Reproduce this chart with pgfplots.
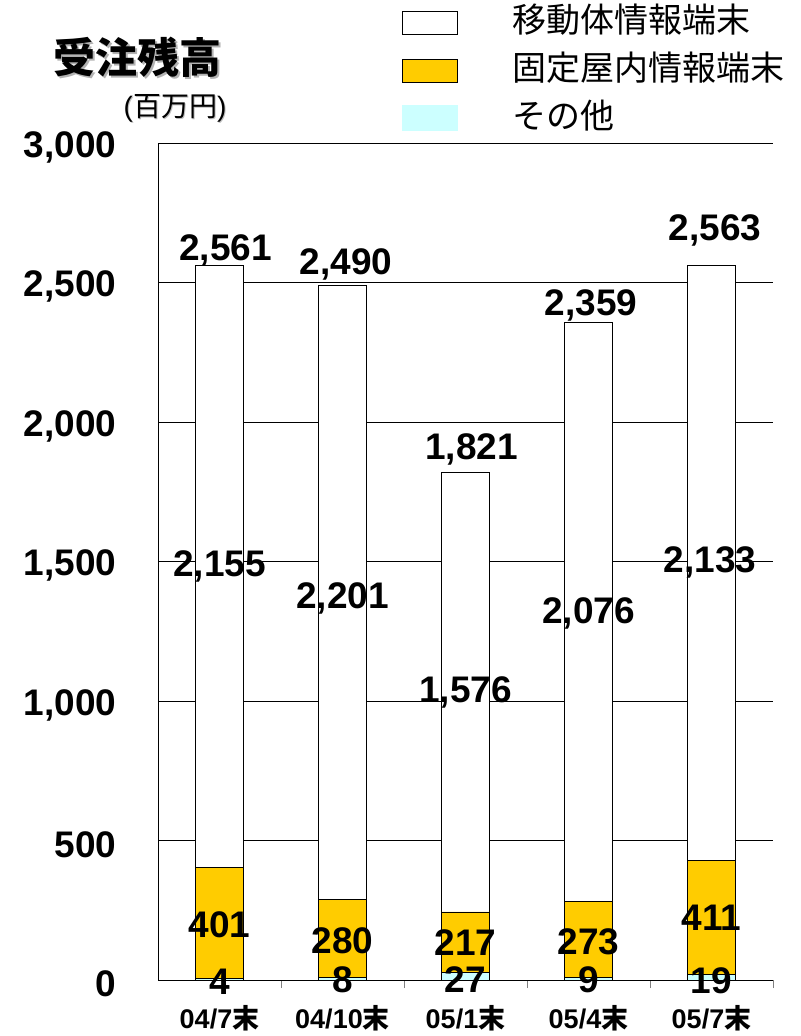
\documentclass[border=0pt]{standalone}
\usepackage{fontspec}
\setmainfont{Liberation Sans}
\newfontfamily\cjk{Noto Sans CJK JP}
\usepackage{pgfplots}
\pgfplotsset{compat=1.18}
\definecolor{gold}{HTML}{FFCC00}
\definecolor{pale}{HTML}{CCFFFF}
\pgfplotsset{
  myleg/.style={legend image code/.code={\draw[##1] (0pt,-5.75pt) rectangle (27.5pt,5.75pt);}},
  paleleg/.style={legend image code/.code={\fill[pale] (0pt,-6pt) rectangle (27.5pt,6.5pt);}},
  frame/.style={at={(79pt,28pt)}, anchor=south west, scale only axis,
    width=307.5pt, height=418.5pt, xmin=-0.5, xmax=4.5, ymin=0, ymax=3000},
}
\begin{document}
\begin{tikzpicture}
\useasboundingbox (0,0) rectangle (400.5pt,518pt);
\begin{axis}[frame,
  ybar stacked, bar width=24pt,
  axis x line=bottom, axis y line=left, axis line style={-},
  xtick={0,...,4},
  xticklabels={04/7{\cjk 末}, 04/10{\cjk 末}, 05/1{\cjk 末}, 05/4{\cjk 末}, 05/7{\cjk 末}},
  major x tick style={draw=none},
  minor xtick={0.5,1.5,2.5,3.5,4.5}, minor tick length=4pt, tick align=outside,
  ytick={0,500,...,3000}, major y tick style={draw=none},
  ymajorgrids, grid style={black, thin},
  yticklabel style={/pgf/number format/.cd, fixed, precision=0, 1000 sep={,}, assume math mode=true,
    /tikz/.cd, font=\fontsize{18.5}{18.5}\selectfont\bfseries, xshift=-13pt, yshift=-2pt},
  xticklabel style={font=\fontsize{13.5}{13.5}\selectfont\bfseries, yshift=-5pt},
  reverse legend,
  legend style={at={(0.387,1.168)}, anchor=north west, draw=none, fill=none,
    font=\cjk\fontsize{17}{17}\selectfont, row sep=8pt, column sep=27pt,
    nodes={inner sep=0pt, text height=13pt, text depth=3pt}},
  legend cell align=left,
]
\addplot[fill=pale, draw=black, paleleg] coordinates {(0,4) (1,8) (2,27) (3,9) (4,19)};
\addplot[fill=gold, draw=black, myleg] coordinates {(0,401) (1,280) (2,217) (3,273) (4,411)};
\addplot[fill=white, draw=black, myleg] coordinates {(0,2155) (1,2201) (2,1576) (3,2076) (4,2133)};
\legend{その他, 固定屋内情報端末, 移動体情報端末}
\end{axis}
\begin{axis}[frame, hide axis, clip=false]
\addplot[only marks, mark=*, mark size=0pt, mark options={draw=none, fill=none},
  point meta=explicit, nodes near coords,
  nodes near coords style={anchor=center, inner sep=0pt,
    font=\fontsize{18.5}{18.5}\selectfont\bfseries,
    /pgf/number format/.cd, fixed, precision=0, 1000 sep={,}, assume math mode=true}]
  coordinates {
  (0.05,2616) [2561] (1.03,2566) [2490] (2.05,1900) [1821] (3.02,2419) [2359] (4.03,2688) [2563]
  (0,1484) [2155] (1,1369) [2201] (2,1029) [1576] (3,1315) [2076] (3.99,1495) [2133]
  (0,197) [401] (1,140) [280] (2,133) [217] (3,136) [273] (4,222) [411]
  (0,-7) [4] (1,0) [8] (2,0) [27] (3,0) [9] (4,-4) [19]
  };
\end{axis}
\node[text=gray!60] at (69.5pt,488.5pt) {\cjk\fontsize{21}{21}\selectfont\bfseries 受注残高};
\node at (68.5pt,489.5pt) {\cjk\fontsize{21}{21}\selectfont\bfseries 受注残高};
\node[text=gray!50] at (88pt,463.5pt) {\fontsize{14}{14}\selectfont (\cjk 百万円\rmfamily)};
\node at (87.5pt,464pt) {\fontsize{14}{14}\selectfont (\cjk 百万円\rmfamily)};
\end{tikzpicture}
\end{document}
